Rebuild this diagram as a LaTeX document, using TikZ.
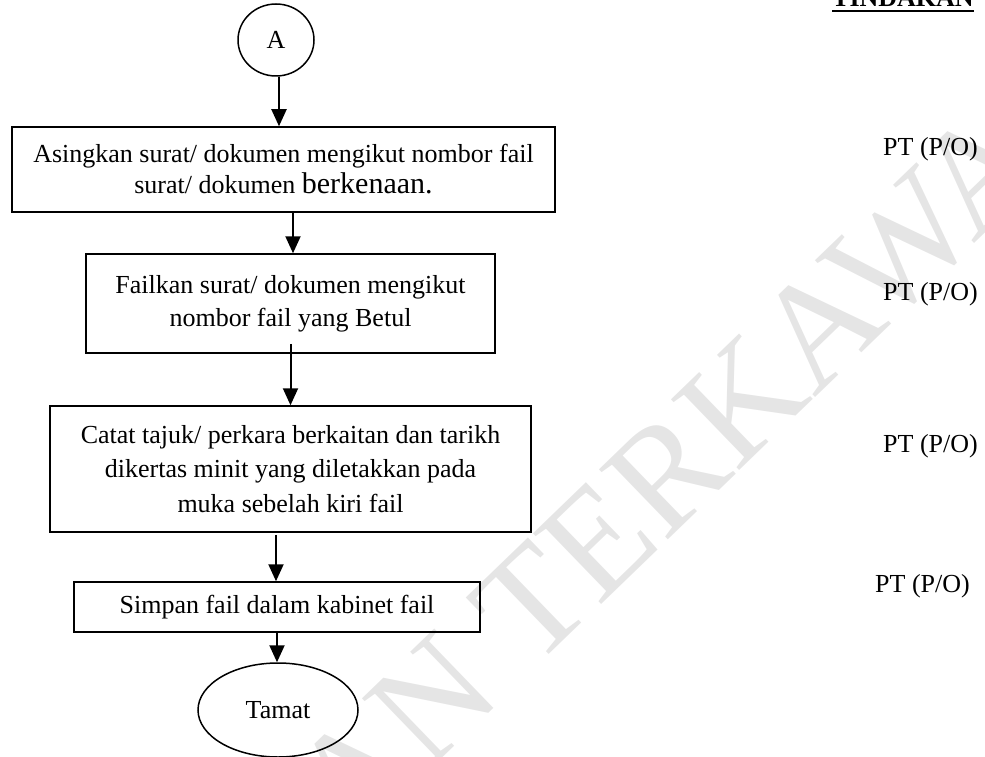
\documentclass[tikz,border=0pt]{standalone}
\usepackage{fontspec}
\setmainfont{Liberation Serif}
\usetikzlibrary{shapes.geometric,arrows.meta}
\begin{document}
\begin{tikzpicture}[x=1pt,y=-1pt,
  box/.style={draw,line width=1.5pt,align=center,inner sep=0pt},
  oval/.style={draw,ellipse,line width=1.5pt,inner sep=0pt},
  conn/.style={line width=2pt,-{Triangle[length=17pt,width=15pt]}},
  who/.style={font=\fontsize{26}{30}\selectfont,anchor=base east,inner sep=0pt},
  wmark/.style={text=black!10,font=\fontsize{150}{150}\selectfont,rotate=44,anchor=base,inner sep=0pt}]
\useasboundingbox (0,0) rectangle (985,757);
% watermark
\node[wmark] (wm) at (575,630) {SALINAN TERKAWAL};
% header
\node[font=\fontsize{26}{30}\selectfont\bfseries,anchor=base west,inner sep=0pt] (tind) at (832,7) {TINDAKAN};
\draw[line width=2pt] ([yshift=-4pt]tind.base west) -- ([yshift=-4pt]tind.base east);
% flow
\node[oval,minimum width=76pt,minimum height=72pt,font=\fontsize{26}{30}\selectfont] (a) at (276,40) {A};
\node[box,minimum width=543pt,minimum height=85pt,font=\fontsize{26}{31}\selectfont] (b1) at (283.5,169.5)
  {Asingkan surat/ dokumen mengikut nombor fail\\ surat/ dokumen {\fontsize{30}{31}\selectfont berkenaan.}};
\node[box,minimum width=409pt,minimum height=99pt,font=\fontsize{26}{33}\selectfont] (b2) at (290.5,303.5)
  {Failkan surat/ dokumen mengikut\\ nombor fail yang Betul};
\node[box,minimum width=481pt,minimum height=126pt,font=\fontsize{26}{34.5}\selectfont] (b3) at (290.5,469)
  {Catat tajuk/ perkara berkaitan dan tarikh\\ dikertas minit yang diletakkan pada\\ muka sebelah kiri fail};
\node[box,minimum width=406pt,minimum height=50pt,font=\fontsize{26}{30}\selectfont] (b4) at (277,607)
  {Simpan fail dalam kabinet fail};
\node[oval,minimum width=160pt,minimum height=94pt,font=\fontsize{26}{30}\selectfont] (t) at (278,710) {Tamat};
% actors
\node[who] (p1) at (978,155) {PT (P/O)};
\node[who] (p2) at (978,300) {PT (P/O)};
\node[who] (p3) at (978,452) {PT (P/O)};
\node[who] (p4) at (970,592) {PT (P/O)};
% connectors
\draw[conn] ([xshift=3pt]a.south) -- ([xshift=3pt]a.south |- b1.north);
\draw[conn] ([xshift=2.5pt]b2.north |- b1.south) -- ([xshift=2.5pt]b2.north);
\draw[conn] ([yshift=10pt]b3.north |- b2.south) -- (b3.north);
\draw[conn] ([yshift=-2pt,xshift=-1pt]b4.north |- b3.south) -- ([xshift=-1pt]b4.north);
\draw[conn] (b4.south) -- (b4.south |- t.north);
\end{tikzpicture}
\end{document}
